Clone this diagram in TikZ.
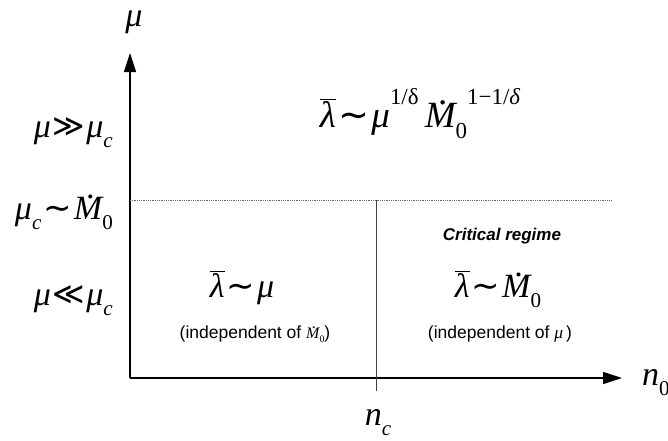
\documentclass[tikz,border=0pt]{standalone}
\usepackage{fontspec}
\usepackage{graphicx}
\usetikzlibrary{arrows.meta}
\setmainfont{Liberation Sans}
\newfontfamily\srf{Liberation Serif}
\newfontfamily\djv{DejaVu Sans}
\newcommand\lo[1]{\raisebox{-0.3em}{\scalebox{0.62}{#1}}}
\newcommand\hi[1]{\raisebox{0.6em}{\scalebox{0.62}{#1}}}
\newcommand\Md{\makebox[0pt][l]{\kern0.36em\raisebox{0.6em}{\upshape.}}M}
\newcommand\lb{$\overline{\hbox{λ}}$}
\newcommand\sm{{\djv\upshape\kern0.06em∼\kern0.06em}}
\newcommand\mgg{{\djv\upshape\fontsize{31}{31}\selectfont\kern0.05em\raisebox{0.02em}{≫}\kern0.05em}}
\newcommand\mll{{\djv\upshape\fontsize{31}{31}\selectfont\kern0.05em\raisebox{0.02em}{≪}\kern0.05em}}
\tikzset{
  mth/.style={font=\srf\itshape\fontsize{34}{36}\selectfont, inner sep=0pt},
  note/.style={font=\fontsize{17.5}{20}\selectfont, inner sep=0pt},
  axis/.style={line width=1.3pt, -{Triangle[length=19pt,width=12pt]}},
}
\begin{document}
\begin{tikzpicture}[x=1pt,y=-1pt]
\useasboundingbox (0,0) rectangle (668,440);
\coordinate (O) at (130,378);
\coordinate (ytip) at (130,53);
\coordinate (xtip) at (622,378);
\coordinate (dl) at (130,200);
\coordinate (dr) at (611,200);
\coordinate (vt) at (376,200);
\coordinate (vb) at (376,391);
\draw[axis] (O) -- (ytip);
\draw[axis] (O) -- (xtip);
\draw[gray!80!black, densely dotted, line width=0.8pt] (dl) -- (dr);
\draw[black!75, line width=0.9pt] (vt) -- (vb);
\node[mth, anchor=base] (mu) at (134,26) {μ};
\node[mth, anchor=base west] (n0) at (642,385) {n\lo{\upshape 0}};
\node[mth, anchor=base] (nc) at (378,425) {n\lo{c}};
\node[mth, anchor=base east] (l1) at (113,137) {μ\mgg μ\lo{c}};
\node[mth, anchor=base east] (l2) at (113,219) {μ\lo{c}\sm\Md\lo{\upshape 0}};
\node[mth, anchor=base east] (l3) at (113,305) {μ\mll μ\lo{c}};
\node[mth, anchor=base, font=\srf\itshape\fontsize{37}{38}\selectfont] (top) at (420,127) {\lb\sm μ\hi{\upshape 1/δ}\,\Md\lo{\upshape 0}\hi{\upshape 1−1/\itshape δ}};
\node[note, anchor=base, font=\bfseries\itshape\fontsize{17}{19}\selectfont] (crit) at (502,240) {Critical regime};
\node[mth, anchor=base] (f1) at (242,297) {\lb\sm μ};
\node[mth, anchor=base] (f2) at (498,297) {\lb\sm\Md\lo{\upshape 0}};
\node[note, anchor=base] (i1) at (255,338) {(independent of {\srf\itshape\fontsize{16}{16}\selectfont\Md\lo{\upshape 0}})};
\node[note, anchor=base] (i2) at (500,338) {(independent of {\srf\itshape μ\,})};
\end{tikzpicture}
\end{document}
